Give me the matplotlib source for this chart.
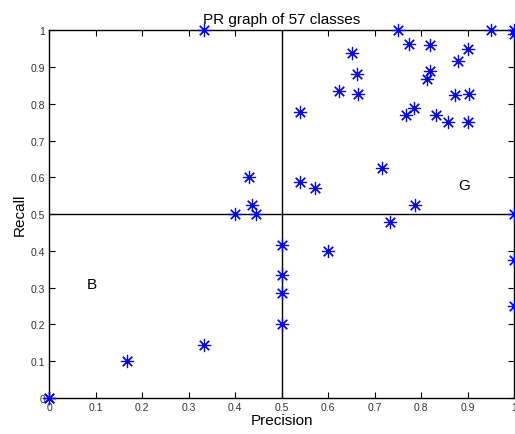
import matplotlib.pyplot as plt

plt.rcParams['font.family'] = ['Liberation Sans', 'DejaVu Sans']

precision = [0, 0, 0.167, 0.333, 0.333, 0.4, 0.429, 0.435, 0.444,
             0.5, 0.5, 0.5, 0.5, 0.6, 0.733, 0.786,
             1.0, 1.0, 1.0, 1.0, 1.0,
             0.75, 0.95, 0.774, 0.82, 0.9, 0.652, 0.879, 0.662, 0.82, 0.812,
             0.623, 0.665, 0.874, 0.904, 0.539, 0.768, 0.785, 0.833, 0.858,
             0.9, 0.715, 0.539, 0.572]
recall = [0, 0, 0.1, 0.143, 1.0, 0.5, 0.6, 0.526, 0.5,
          0.2, 0.286, 0.333, 0.417, 0.4, 0.478, 0.524,
          0.5, 0.375, 0.25, 1.0, 0.99,
          1.0, 1.0, 0.962, 0.96, 0.949, 0.938, 0.917, 0.881, 0.89, 0.867,
          0.835, 0.827, 0.824, 0.828, 0.778, 0.77, 0.788, 0.77, 0.751,
          0.751, 0.625, 0.586, 0.571]

ticks = [0, 0.1, 0.2, 0.3, 0.4, 0.5, 0.6, 0.7, 0.8, 0.9, 1]
tick_labels = ["0", "0.1", "0.2", "0.3", "0.4", "0.5", "0.6", "0.7", "0.8", "0.9", "1"]

fig = plt.figure(figsize=(5.15, 4.35), dpi=100)
ax = fig.add_axes([0.096, 0.083, 0.902, 0.845])

ax.plot([0.5, 0.5], [0, 1], color="black", linewidth=1)
ax.plot([0, 1], [0.5, 0.5], color="black", linewidth=1)
ax.plot(precision, recall, linestyle="none", marker=(8, 2, 0), markersize=9.5,
        markeredgewidth=0.85, color="blue", clip_on=False, zorder=3)

ax.text(0.08, 0.31, "B", fontsize=11, va="center")
ax.text(0.88, 0.58, "G", fontsize=11, va="center")

ax.set_xlim(0, 1)
ax.set_ylim(0, 1)
ax.set_xticks(ticks)
ax.set_xticklabels(tick_labels)
ax.set_yticks(ticks)
ax.set_yticklabels(tick_labels)
ax.tick_params(direction="in", length=4, top=True, right=True, labelsize=7.5,
               labelcolor="#333333", pad=3)
for s in ax.spines.values():
    s.set_linewidth(1)

ax.set_title("PR graph of 57 classes", fontsize=11, pad=5)
ax.set_xlabel("Precision", fontsize=11, labelpad=1)
ax.set_ylabel("Recall", fontsize=11, labelpad=3)

fig.savefig("out.png", dpi=100)
